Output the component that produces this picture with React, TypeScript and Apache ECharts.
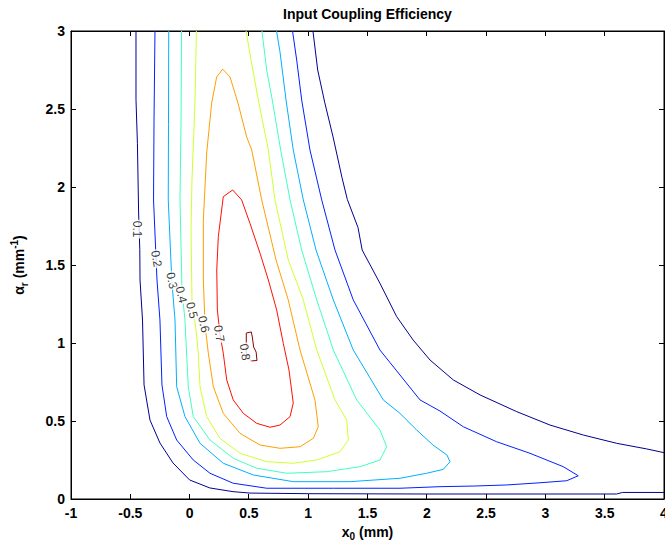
import React, { useEffect, useRef } from "react";
import * as echarts from "echarts";

type Pt = [number, number];

// Contour levels and their labels
const levels = [0.1, 0.2, 0.3, 0.4, 0.5, 0.6, 0.7, 0.8];
const levelNames = ["0.1", "0.2", "0.3", "0.4", "0.5", "0.6", "0.7", "0.8"];
const levelColors = ["#00008F", "#0020FF", "#00AFFF", "#40FFBF", "#CFFF30", "#FF9F00", "#FF1000", "#8F0000"];

// Axis ticks
const xTicks = [-1, -0.5, 0, 0.5, 1, 1.5, 2, 2.5, 3, 3.5, 4];
const yTicks = [0, 0.5, 1, 1.5, 2, 2.5, 3];

// Contour 0.1: left / bottom branch
const c10a: Pt[] = [
  [-0.452, 3.0], [-0.452, 2.56], [-0.44, 2.28], [-0.43, 1.84], [-0.42, 1.6], [-0.418, 1.404],
  [-0.397, 1.147], [-0.384, 0.731], [-0.334, 0.506], [-0.25, 0.359], [-0.14, 0.231],
  [0.0, 0.122], [0.17, 0.071], [0.366, 0.047], [0.509, 0.038], [1.0, 0.034], [2.0, 0.032],
  [3.0, 0.032], [3.6, 0.032], [3.65, 0.042], [4.0, 0.042],
];
// Contour 0.1: right branch
const c10b: Pt[] = [
  [1.04, 3.0], [1.08, 2.75], [1.14, 2.54], [1.21, 2.32], [1.285, 2.06], [1.33, 1.92],
  [1.42, 1.74], [1.455, 1.596], [1.605, 1.383], [1.746, 1.169], [1.885, 1.019],
  [2.027, 0.891], [2.224, 0.763], [2.449, 0.667], [2.758, 0.56], [3.039, 0.474],
  [3.32, 0.41], [3.601, 0.357], [3.854, 0.321], [4.0, 0.297],
];
// Contour 0.2
const c20: Pt[] = [
  [-0.292, 3.0], [-0.3, 2.429], [-0.304, 1.917], [-0.275, 1.404], [-0.25, 1.147],
  [-0.233, 0.731], [-0.193, 0.528], [-0.109, 0.378], [0.031, 0.25], [0.172, 0.165],
  [0.368, 0.101], [0.65, 0.069], [1.212, 0.069], [1.774, 0.069], [2.111, 0.079],
  [2.392, 0.083], [2.674, 0.09], [2.954, 0.104], [3.18, 0.117], [3.277, 0.149],
  [3.151, 0.207], [2.87, 0.293], [2.589, 0.367], [2.308, 0.463], [2.111, 0.564],
  [1.943, 0.635], [1.605, 0.955], [1.38, 1.276], [1.226, 1.596], [1.114, 1.917],
  [1.015, 2.237], [0.945, 2.558], [0.903, 2.814], [0.868, 3.0],
];
// Contour 0.3
const c30: Pt[] = [
  [-0.176, 3.0], [-0.178, 2.4], [-0.18, 1.917], [-0.15, 1.4], [-0.123, 1.147],
  [-0.109, 0.72], [-0.039, 0.528], [0.088, 0.357], [0.284, 0.229], [0.537, 0.154],
  [0.874, 0.111], [1.352, 0.111], [1.774, 0.133], [1.999, 0.165], [2.139, 0.19],
  [2.196, 0.239], [2.17, 0.282], [2.052, 0.346], [1.915, 0.442], [1.774, 0.549],
  [1.633, 0.635], [1.38, 0.955], [1.212, 1.276], [1.066, 1.596], [0.959, 1.917],
  [0.874, 2.237], [0.813, 2.558], [0.762, 2.867], [0.733, 3.0],
];
// Contour 0.4
const c40: Pt[] = [
  [-0.068, 3.0], [-0.072, 2.429], [-0.081, 1.917], [-0.064, 1.34], [-0.039, 1.147],
  [-0.011, 0.72], [0.031, 0.528], [0.172, 0.378], [0.368, 0.261], [0.566, 0.197],
  [0.819, 0.165], [1.156, 0.175], [1.437, 0.207], [1.605, 0.25], [1.662, 0.335],
  [1.605, 0.442], [1.409, 0.635], [1.212, 0.955], [1.072, 1.276], [0.945, 1.596],
  [0.847, 1.917], [0.768, 2.237], [0.697, 2.558], [0.65, 2.75], [0.61, 3.0],
];
// Contour 0.5
const c50: Pt[] = [
  [0.057, 3.0], [0.046, 2.558], [0.02, 2.045], [0.012, 1.724], [0.02, 1.276],
  [0.054, 1.083], [0.073, 0.934], [0.088, 0.72], [0.144, 0.528], [0.256, 0.389],
  [0.425, 0.293], [0.65, 0.239], [0.874, 0.229], [1.072, 0.25], [1.268, 0.303],
  [1.338, 0.378], [1.325, 0.506], [1.226, 0.635], [1.072, 0.955], [0.959, 1.276],
  [0.832, 1.532], [0.72, 1.917], [0.664, 2.237], [0.579, 2.558], [0.518, 2.814],
  [0.476, 3.0],
];
// Contour 0.6 (closed)
const c60: Pt[] = [
  [0.279, 2.756], [0.341, 2.705], [0.408, 2.538], [0.481, 2.321], [0.524, 2.237],
  [0.608, 1.917], [0.729, 1.532], [0.832, 1.276], [0.931, 0.955], [1.057, 0.635],
  [1.085, 0.463], [1.043, 0.389], [0.931, 0.335], [0.762, 0.325], [0.594, 0.346],
  [0.425, 0.421], [0.284, 0.549], [0.2, 0.72], [0.158, 0.934], [0.13, 1.115],
  [0.116, 1.404], [0.116, 1.788], [0.144, 2.218], [0.186, 2.538], [0.228, 2.705],
  [0.279, 2.756],
];
// Contour 0.7 (closed)
const c70: Pt[] = [
  [0.363, 1.981], [0.439, 1.917], [0.509, 1.767], [0.594, 1.575], [0.664, 1.404],
  [0.734, 1.212], [0.79, 0.998], [0.838, 0.827], [0.874, 0.615], [0.847, 0.528],
  [0.762, 0.474], [0.678, 0.46], [0.566, 0.485], [0.453, 0.549], [0.368, 0.635],
  [0.313, 0.763], [0.284, 0.934], [0.256, 1.058], [0.234, 1.212], [0.229, 1.468],
  [0.242, 1.681], [0.284, 1.938], [0.363, 1.981],
];
// Contour 0.8 (closed)
const c80: Pt[] = [
  [0.478, 1.032], [0.478, 1.064], [0.52, 1.071], [0.529, 1.038], [0.54, 0.974],
  [0.561, 0.942], [0.568, 0.888], [0.52, 0.885], [0.478, 0.92], [0.478, 1.032],
];

// Inline label positions (data coordinates)
const labelX = [-0.44, -0.28, -0.15, -0.07, 0.02, 0.12, 0.25, 0.467];
const labelY = [1.73, 1.54, 1.4, 1.31, 1.21, 1.12, 1.06, 0.942];
const labelRot = [-90, -80, -78, -76, -76, -77, -80, -82];

const contourSets: { level: number; pts: Pt[] }[] = [
  { level: 0, pts: c10a },
  { level: 0, pts: c10b },
  { level: 1, pts: c20 },
  { level: 2, pts: c30 },
  { level: 3, pts: c40 },
  { level: 4, pts: c50 },
  { level: 5, pts: c60 },
  { level: 6, pts: c70 },
  { level: 7, pts: c80 },
];

const FONT = "'Liberation Sans', Arial, Helvetica, sans-serif";
const TICK_LEN = 5;

function makeAxis(pos: string, ticks: number[], showLabel: boolean, extra: any) {
  return {
    type: "value",
    position: pos,
    min: ticks[0],
    max: ticks[ticks.length - 1],
    interval: ticks[1] - ticks[0],
    axisLine: { show: true, onZero: false, lineStyle: { color: "#000", width: 1 } },
    axisTick: { show: false },
    splitLine: { show: false },
    axisLabel: showLabel
      ? { show: true, color: "#000", fontSize: 14, fontWeight: "bold", fontFamily: FONT, margin: pos === "bottom" ? 7 : 6 }
      : { show: false },
    ...extra,
  };
}

const crisp = (v: number) => Math.round(v - 0.5) + 0.5;

export default function App() {
  const ref = useRef<HTMLDivElement>(null);
  useEffect(() => {
    if (!ref.current) return;
    const chart = echarts.init(ref.current, undefined, { renderer: "svg" });
    const rich = {
      a: { fontSize: 14, fontWeight: "bold", fontFamily: FONT, color: "#000", lineHeight: 20 },
      s: { fontSize: 10, fontWeight: "bold", fontFamily: FONT, color: "#000", lineHeight: 10, verticalAlign: "bottom" },
      p: { fontSize: 10, fontWeight: "bold", fontFamily: FONT, color: "#000", lineHeight: 10, verticalAlign: "top" },
    };
    const yMin = yTicks[0];
    const yMax = yTicks[yTicks.length - 1];
    const xMin = xTicks[0];
    const xMax = xTicks[xTicks.length - 1];
    const tickStyle = { stroke: "#000", lineWidth: 1 };

    const lineSeries = contourSets.map((c) => ({
      type: "line",
      data: c.pts,
      showSymbol: false,
      symbol: "none",
      silent: true,
      xAxisIndex: 0,
      yAxisIndex: 0,
      lineStyle: { color: levelColors[c.level], width: 1 },
      z: 2,
    }));
    const labelSeries = {
      type: "scatter",
      xAxisIndex: 0,
      yAxisIndex: 0,
      symbolSize: 1,
      itemStyle: { color: "rgba(255,255,255,0)" },
      silent: true,
      z: 5,
      data: levels.map((lv, i) => ({
        name: levelNames[i],
        value: [labelX[i], labelY[i]],
        label: { rotate: labelRot[i] },
      })),
      label: {
        show: true,
        position: "inside",
        formatter: "{b}",
        color: "#000",
        fontSize: 12,
        fontFamily: FONT,
        textBorderWidth: 0,
        backgroundColor: "#fff",
        padding: [0, 1, 0, 1],
      },
      labelLayout: { hideOverlap: false },
    };
    // Inward tick marks on all four sides, placed through the axes' scales
    const xTickSeries = {
      type: "custom",
      xAxisIndex: 0,
      yAxisIndex: 0,
      silent: true,
      clip: false,
      z: 6,
      data: xTicks.map((v) => [v, yMin]),
      renderItem: (params: any, api: any) => {
        const v = api.value(0);
        const pb = api.coord([v, yMin]);
        const pt = api.coord([v, yMax]);
        const x = crisp(pb[0]);
        return {
          type: "group",
          children: [
            { type: "line", shape: { x1: x, y1: pb[1], x2: x, y2: pb[1] - TICK_LEN }, style: tickStyle },
            { type: "line", shape: { x1: x, y1: pt[1], x2: x, y2: pt[1] + TICK_LEN }, style: tickStyle },
          ],
        };
      },
    };
    const yTickSeries = {
      type: "custom",
      xAxisIndex: 0,
      yAxisIndex: 0,
      silent: true,
      clip: false,
      z: 6,
      data: yTicks.map((v) => [xMin, v]),
      renderItem: (params: any, api: any) => {
        const v = api.value(1);
        const pl = api.coord([xMin, v]);
        const pr = api.coord([xMax, v]);
        const y = crisp(pl[1]);
        return {
          type: "group",
          children: [
            { type: "line", shape: { x1: pl[0], y1: y, x2: pl[0] + TICK_LEN, y2: y }, style: tickStyle },
            { type: "line", shape: { x1: pr[0], y1: y, x2: pr[0] - TICK_LEN, y2: y }, style: tickStyle },
          ],
        };
      },
    };
    chart.setOption({
      animation: false,
      grid: {
        left: 71,
        right: 1,
        top: 31,
        bottom: 49,
        containLabel: false,
        outerBoundsMode: "none",
        show: true,
        borderColor: "#000",
        borderWidth: 1,
        backgroundColor: "transparent",
      },
      graphic: [
        {
          type: "text",
          x: 367.5,
          y: 14,
          style: {
            text: "Input Coupling Efficiency",
            textAlign: "center",
            textVerticalAlign: "middle",
            font: `bold 14px ${FONT}`,
            fill: "#000",
          },
        },
      ],
      xAxis: [
        makeAxis("bottom", xTicks, true, {
          name: "{a|x}{s|0}{a| (mm)}",
          nameLocation: "middle",
          nameGap: 22,
          nameTextStyle: { rich },
        }),
        makeAxis("top", xTicks, false, {}),
      ],
      yAxis: [
        makeAxis("left", yTicks, true, {
          name: "{a|α}{s|r}{a| (mm}{p|-1}{a|)}",
          nameLocation: "middle",
          nameRotate: 90,
          nameGap: 42,
          nameTextStyle: { rich },
        }),
        makeAxis("right", yTicks, false, {}),
      ],
      series: [...lineSeries, labelSeries, xTickSeries, yTickSeries],
    });
    return () => chart.dispose();
  }, []);
  return (
    <div
      ref={ref}
      style={{ position: "absolute", left: 0, top: 0, width: 665, height: 548, background: "#fff" }}
    />
  );
}
